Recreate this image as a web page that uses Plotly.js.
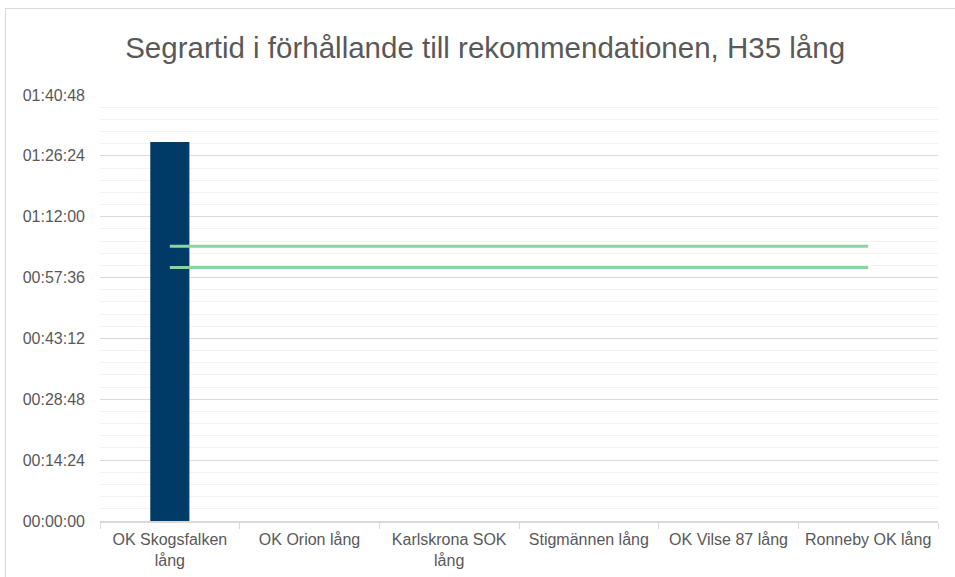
<!DOCTYPE html>
<html>
<head>
<meta charset="utf-8">
<script src="https://cdn.plot.ly/plotly-3.0.1.min.js"></script>
<style>
  html, body { margin: 0; padding: 0; background: #ffffff; overflow: hidden; }
  #chart { width: 955px; height: 577px; position: relative; }
  #frame { position: absolute; left: 5px; top: 8px; width: 970px; height: 600px;
           border: 1.5px solid #d9d9d9; pointer-events: none; box-sizing: border-box; }
</style>
</head>
<body>
<div id="chart"></div>
<div id="frame"></div>
<script>
// Categories (clubs / courses)
const categories = [
  "OK Skogsfalken<br>lång",
  "OK Orion lång",
  "Karlskrona SOK<br>lång",
  "Stigmännen lång",
  "OK Vilse 87 lång",
  "Ronneby OK lång"
];
// Winning time in seconds
const winnerSeconds = [5380, null, null, null, null, null];
// Recommended winning time bounds in seconds
const recUpper = [3900, 3900, 3900, 3900, 3900, 3900];
const recLower = [3600, 3600, 3600, 3600, 3600, 3600];
// Y axis ticks (seconds) and labels
const yTickVals = [0, 864, 1728, 2592, 3456, 4320, 5184, 6048];
const yTickText = ["00:00:00", "00:14:24", "00:28:48", "00:43:12", "00:57:36", "01:12:00", "01:26:24", "01:40:48"];

const fontFam = "Liberation Sans, Arial, sans-serif";

const traces = [
  {
    type: "bar",
    x: categories,
    y: winnerSeconds,
    marker: { color: "#003a66" },
    width: 0.28,
    showlegend: false
  },
  {
    type: "scatter",
    mode: "lines",
    x: categories,
    y: recUpper,
    line: { color: "#8bd3a0", width: 3 },
    showlegend: false
  },
  {
    type: "scatter",
    mode: "lines",
    x: categories,
    y: recLower,
    line: { color: "#8bd3a0", width: 3 },
    showlegend: false
  }
];

const layout = {
  width: 955,
  height: 577,
  margin: { l: 100, r: 17, t: 95, b: 56 },
  paper_bgcolor: "#ffffff",
  plot_bgcolor: "#ffffff",
  font: { family: fontFam, color: "#595959", size: 16 },
  title: {
    text: "Segrartid i förhållande till rekommendationen, H35 lång",
    font: { family: fontFam, size: 29.5, color: "#595959" },
    x: 0.508, xanchor: "center",
    y: 0.918, yanchor: "middle"
  },
  xaxis: {
    type: "category",
    showgrid: false,
    showline: true,
    linecolor: "#d9d9d9",
    linewidth: 1.5,
    ticks: "outside",
    tickson: "boundaries",
    ticklen: 6,
    tickcolor: "#d9d9d9",
    ticklabelstandoff: 3,
    tickfont: { family: fontFam, size: 16, color: "#595959" },
    fixedrange: true
  },
  yaxis: {
    range: [0, 6048],
    tickvals: yTickVals,
    ticktext: yTickText,
    showgrid: true,
    gridcolor: "#d9d9d9",
    gridwidth: 1,
    zeroline: false,
    showline: false,
    ticks: "",
    ticklabelstandoff: 14,
    tickfont: { family: fontFam, size: 16, color: "#595959" },
    minor: { dtick: 172.8, tick0: 0, showgrid: true, gridcolor: "#f2f2f2", gridwidth: 1 },
    fixedrange: true
  },
  bargap: 0.72
};

Plotly.newPlot("chart", traces, layout, { displayModeBar: false, staticPlot: true });
</script>
</body>
</html>
